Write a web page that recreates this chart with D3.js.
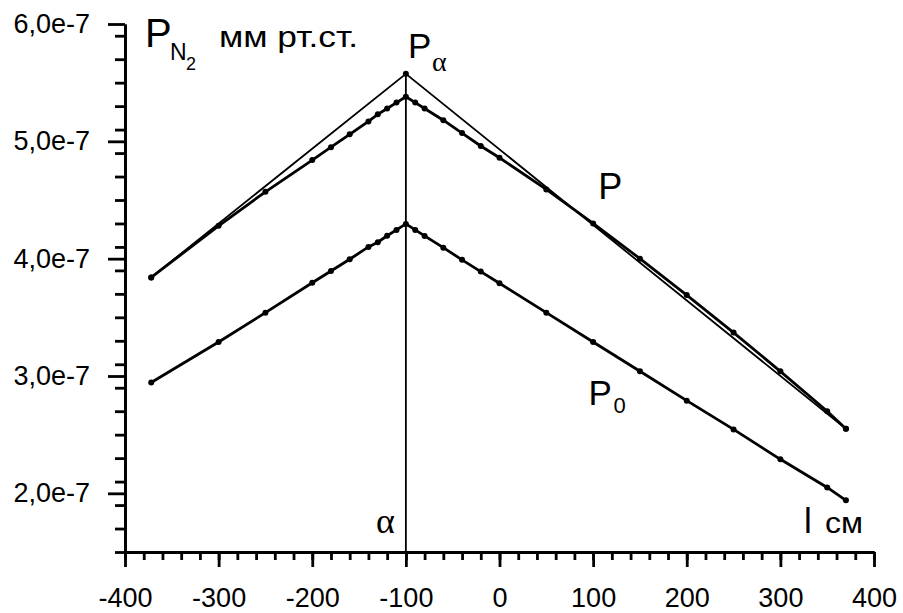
<!DOCTYPE html>
<html>
<head>
  <meta charset="utf-8" />
  <title>P N2 vs l</title>
  <style>
    body { margin: 0; background: #fff; }
    svg { display: block; }
    text { font-family: "Liberation Sans", Arial, sans-serif; fill: #000; }
    .greek { font-family: "Liberation Serif", "Times New Roman", serif; }
    .axis path, .axis line { stroke: #000; stroke-width: 2.8px; }
    .axis text { font-size: 27px; }
  </style>
</head>
<body>
  <svg></svg>
  <script src="https://d3js.org/d3.v7.min.js"></script>
  <script>
    // distance along the tube, cm
    var lValues = [-372, -300, -250, -200, -180, -160, -140, -130, -120, -110, -100,
      -90, -80, -60, -40, -20, 0, 50, 100, 150, 200, 250, 300, 350, 370];
    // measured pressure P (units of 1e-7 mm Hg)
    var pValues = [3.84, 4.28, 4.57, 4.84, 4.95, 5.06, 5.17, 5.23, 5.28, 5.33, 5.38,
      5.33, 5.28, 5.18, 5.07, 4.96, 4.86, 4.59, 4.30, 4.00, 3.69, 3.37, 3.04, 2.70, 2.55];
    // P0 (units of 1e-7 mm Hg)
    var p0Values = [2.945, 3.29, 3.54, 3.795, 3.895, 3.995, 4.10, 4.14, 4.195, 4.245, 4.296,
      4.245, 4.194, 4.094, 3.99, 3.89, 3.79, 3.54, 3.29, 3.04, 2.79, 2.545, 2.29, 2.05, 1.94];
    // straight line through P_alpha
    var lineL = [-372, -100, 370];
    var lineP = [3.84, 5.575, 2.55];
    var alphaL = -100;

    var xTicks = [-400, -300, -200, -100, 0, 100, 200, 300, 400];
    var yTicks = [2, 3, 4, 5, 6];

    var width = 903, height = 613;
    var svg = d3.select("svg").attr("width", width).attr("height", height);

    var x = d3.scaleLinear().domain([-400, 400]).range([125, 874]);
    var y = d3.scaleLinear().domain([1.5, 6.0]).range([552, 24]);

    // minor ticks
    var xMinor = d3.range(-400, 401, 20);
    var yMinor = d3.range(15, 61, 2).map(d => d / 10);

    svg.append("g")
      .attr("class", "axis")
      .attr("transform", "translate(0," + y(1.5) + ")")
      .call(d3.axisBottom(x).tickValues(xMinor).tickSize(8).tickFormat("").tickSizeOuter(0));
    svg.append("g")
      .attr("class", "axis")
      .attr("transform", "translate(0," + y(1.5) + ")")
      .call(d3.axisBottom(x).tickValues(xTicks).tickSize(15).tickPadding(21).tickSizeOuter(0)
        .tickFormat(d => d));

    svg.append("g")
      .attr("class", "axis")
      .attr("transform", "translate(" + x(-400) + ",0)")
      .call(d3.axisLeft(y).tickValues(yMinor).tickSize(10).tickFormat("").tickSizeOuter(0));
    svg.append("g")
      .attr("class", "axis")
      .attr("transform", "translate(" + x(-400) + ",0)")
      .call(d3.axisLeft(y).tickValues(yTicks).tickSize(17).tickPadding(18).tickSizeOuter(0)
        .tickFormat(d => d.toFixed(1).replace(".", ",") + "e-7"));

    svg.selectAll(".axis .tick text").attr("fill", "#000");

    // vertical line at alpha
    svg.append("line")
      .attr("x1", x(alphaL)).attr("x2", x(alphaL))
      .attr("y1", y(1.5)).attr("y2", y(d3.max(lineP)))
      .attr("stroke", "#000").attr("stroke-width", 1.8);

    var thin = lineL.map((d, i) => [d, lineP[i]]);
    var seriesP = lValues.map((d, i) => [d, pValues[i]]);
    var seriesP0 = lValues.map((d, i) => [d, p0Values[i]]);

    var line = d3.line().x(d => x(d[0])).y(d => y(d[1]));

    svg.append("path").datum(thin)
      .attr("d", line).attr("fill", "none").attr("stroke", "#000").attr("stroke-width", 1.8);

    [seriesP, seriesP0].forEach(function (s) {
      svg.append("path").datum(s)
        .attr("d", line).attr("fill", "none").attr("stroke", "#000").attr("stroke-width", 2.8);
      svg.append("g").selectAll("circle")
        .data(s).enter().append("circle")
        .attr("cx", d => x(d[0])).attr("cy", d => y(d[1]))
        .attr("r", 3).attr("fill", "#000");
    });

    svg.append("g").selectAll("circle")
      .data(thin).enter().append("circle")
      .attr("cx", d => x(d[0])).attr("cy", d => y(d[1]))
      .attr("r", 3).attr("fill", "#000");

    // labels
    svg.append("text").attr("x", 145).attr("y", 47).attr("font-size", 40).text("P");
    svg.append("text").attr("x", 170).attr("y", 60).attr("font-size", 23).text("N");
    svg.append("text").attr("x", 186).attr("y", 70).attr("font-size", 18).text("2");
    svg.append("text").attr("x", 219).attr("y", 47).attr("font-size", 29)
      .attr("textLength", 139).attr("lengthAdjust", "spacingAndGlyphs").text("мм рт.ст.");

    svg.append("text").attr("x", x(alphaL) + 2).attr("y", 58).attr("font-size", 35).text("P");
    svg.append("text").attr("class", "greek").attr("x", x(alphaL) + 26).attr("y", 71)
      .attr("font-size", 28).text("α");

    svg.append("text").attr("x", x(100) + 5).attr("y", 199).attr("font-size", 36).text("P");

    svg.append("text").attr("x", x(95)).attr("y", 405).attr("font-size", 35).text("P");
    svg.append("text").attr("x", x(95) + 25).attr("y", 413).attr("font-size", 22).text("0");

    svg.append("text").attr("class", "greek").attr("x", x(alphaL) - 30).attr("y", 533)
      .attr("font-size", 36).text("α");

    svg.append("text").attr("x", 804).attr("y", 533).attr("font-size", 35).text("l");
    svg.append("text").attr("x", 825).attr("y", 533).attr("font-size", 29)
      .attr("textLength", 38).attr("lengthAdjust", "spacingAndGlyphs").text("см");
  </script>
</body>
</html>
